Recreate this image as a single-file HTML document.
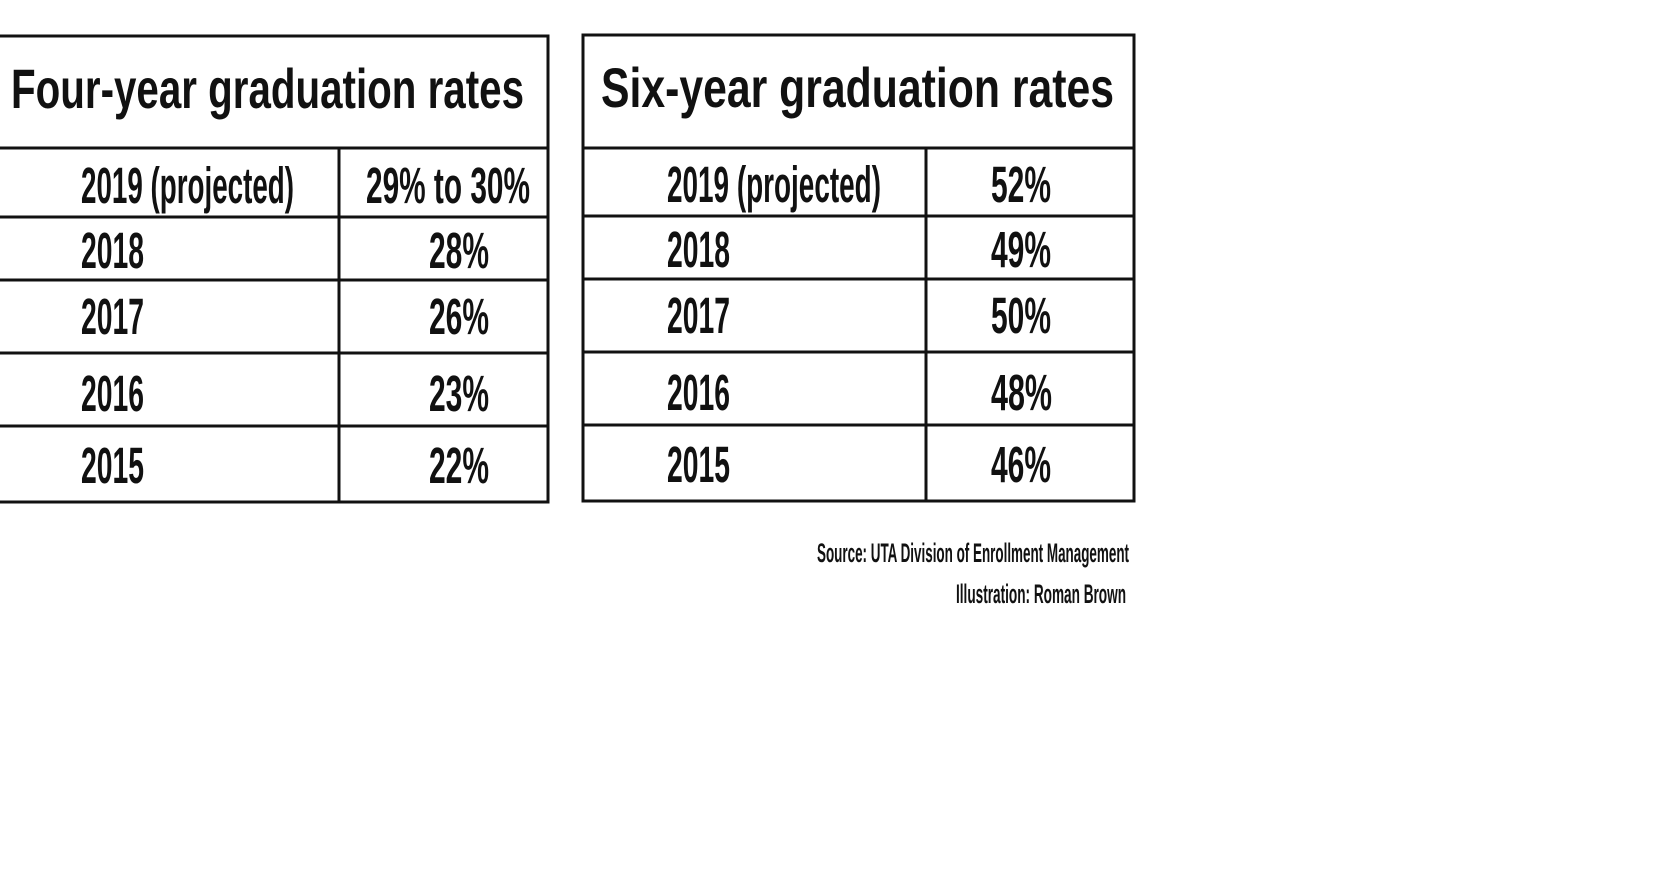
<!DOCTYPE html>
<html><head><meta charset="utf-8"><style>
html,body{margin:0;padding:0;background:#fff;}
svg{display:block}
text{font-family:"Liberation Sans",sans-serif;font-weight:bold;fill:#111}
</style></head><body>
<svg width="1676" height="880" viewBox="0 0 1676 880" xmlns="http://www.w3.org/2000/svg">
<g stroke="#111" stroke-width="3" fill="none">
<rect x="-5" y="36" width="553" height="466"/>
<line x1="-5" y1="148" x2="548" y2="148"/>
<line x1="-5" y1="217" x2="548" y2="217"/>
<line x1="-5" y1="280" x2="548" y2="280"/>
<line x1="-5" y1="353" x2="548" y2="353"/>
<line x1="-5" y1="426" x2="548" y2="426"/>
<line x1="339" y1="148" x2="339" y2="502"/>
<rect x="583" y="35" width="551" height="466"/>
<line x1="583" y1="148" x2="1134" y2="148"/>
<line x1="583" y1="216" x2="1134" y2="216"/>
<line x1="583" y1="279" x2="1134" y2="279"/>
<line x1="583" y1="352" x2="1134" y2="352"/>
<line x1="583" y1="425" x2="1134" y2="425"/>
<line x1="926" y1="148" x2="926" y2="501"/>
</g>
<g font-size="56">
<text x="11" y="108" textLength="513" lengthAdjust="spacingAndGlyphs">Four-year graduation rates</text>
<text x="601" y="107" textLength="513" lengthAdjust="spacingAndGlyphs">Six-year graduation rates</text>
</g>
<g font-size="51">
<text x="81" y="203" textLength="213" lengthAdjust="spacingAndGlyphs">2019 (projected)</text>
<text x="366" y="203" textLength="164" lengthAdjust="spacingAndGlyphs">29% to 30%</text>
<text x="81" y="268" textLength="63" lengthAdjust="spacingAndGlyphs">2018</text>
<text x="429" y="268" textLength="60" lengthAdjust="spacingAndGlyphs">28%</text>
<text x="81" y="334" textLength="63" lengthAdjust="spacingAndGlyphs">2017</text>
<text x="429" y="334" textLength="60" lengthAdjust="spacingAndGlyphs">26%</text>
<text x="81" y="411" textLength="63" lengthAdjust="spacingAndGlyphs">2016</text>
<text x="429" y="411" textLength="60" lengthAdjust="spacingAndGlyphs">23%</text>
<text x="81" y="483" textLength="63" lengthAdjust="spacingAndGlyphs">2015</text>
<text x="429" y="483" textLength="60" lengthAdjust="spacingAndGlyphs">22%</text>
<text x="667" y="202" textLength="214" lengthAdjust="spacingAndGlyphs">2019 (projected)</text>
<text x="991" y="202" textLength="60" lengthAdjust="spacingAndGlyphs">52%</text>
<text x="667" y="267" textLength="63" lengthAdjust="spacingAndGlyphs">2018</text>
<text x="991" y="267" textLength="60" lengthAdjust="spacingAndGlyphs">49%</text>
<text x="667" y="333" textLength="63" lengthAdjust="spacingAndGlyphs">2017</text>
<text x="991" y="333" textLength="60" lengthAdjust="spacingAndGlyphs">50%</text>
<text x="667" y="410" textLength="63" lengthAdjust="spacingAndGlyphs">2016</text>
<text x="991" y="410" textLength="61" lengthAdjust="spacingAndGlyphs">48%</text>
<text x="667" y="482" textLength="63" lengthAdjust="spacingAndGlyphs">2015</text>
<text x="991" y="482" textLength="60" lengthAdjust="spacingAndGlyphs">46%</text>
</g>
<g font-size="27" style="font-weight:normal">
<text x="817" y="562" textLength="312" lengthAdjust="spacingAndGlyphs">Source: UTA Division of Enrollment Management</text>
<text x="956" y="603" textLength="170" lengthAdjust="spacingAndGlyphs">Illustration: Roman Brown</text>
</g>
</svg>
</body></html>
